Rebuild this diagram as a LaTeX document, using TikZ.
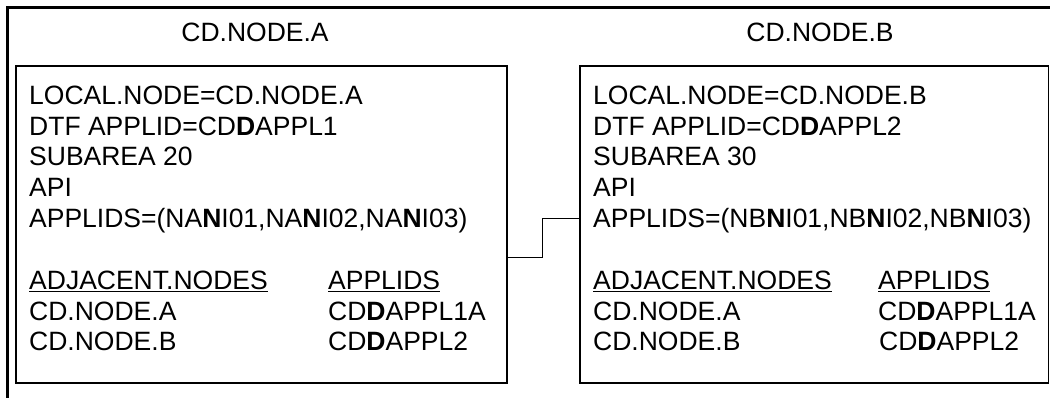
\documentclass[tikz,border=0pt]{standalone}
\usepackage{fontspec}
\setmainfont{Liberation Sans}
\begin{document}
\begin{tikzpicture}[x=1pt,y=-1pt,
  frame/.style={line width=2.2pt},
  box/.style={draw,line width=1.8pt,inner sep=0pt,minimum height=317pt},
  conn/.style={line width=1pt},
  txt/.style={anchor=base west,inner sep=0pt,font=\fontsize{26.5}{30.5}\selectfont},
  ttl/.style={anchor=base,inner sep=0pt,font=\fontsize{26.5}{30.5}\selectfont}]
\useasboundingbox (0,0) rectangle (1050,398);
% outer frame (open on right and bottom)
\draw[frame] (7.5,398) -- (7.5,7.5) -- (1050,7.5);
% titles
\node[ttl] (tA) at (255,42) {CD.NODE.A};
\node[ttl] (tB) at (820,42) {CD.NODE.B};
% boxes
\node[box,minimum width=491pt] (A) at (261.5,224.5) {};
\node[box,minimum width=468.5pt] (B) at (814.25,224.5) {};
% connector
\draw[conn] ([yshift=-33.5pt]A.east) -- ++(35,0) |- ([yshift=5.8pt]B.west);
% box A text
\node[txt] (a1) at (29,105) {LOCAL.NODE=CD.NODE.A};
\node[txt] (a2) at (29,135.5) {DTF APPLID=CD\textbf{D}APPL1};
\node[txt] (a3) at (29,166) {SUBAREA 20};
\node[txt] (a4) at (29,196.5) {API};
\node[txt] (a5) at (29,227.5) {APPLIDS=(NA\textbf{N}I01,NA\textbf{N}I02,NA\textbf{N}I03)};
\node[txt] (a6) at (29,290) {\underline{ADJACENT.NODES}};
\node[txt] (a7) at (328,290) {\underline{APPLIDS}};
\node[txt] (a8) at (29,320) {CD.NODE.A};
\node[txt] (a9) at (328,320) {CD\textbf{D}APPL1A};
\node[txt] (a10) at (29,350) {CD.NODE.B};
\node[txt] (a11) at (328,350) {CD\textbf{D}APPL2};
% box B text
\node[txt] (b1) at (593,105) {LOCAL.NODE=CD.NODE.B};
\node[txt] (b2) at (593,135.5) {DTF APPLID=CD\textbf{D}APPL2};
\node[txt] (b3) at (593,166) {SUBAREA 30};
\node[txt] (b4) at (593,196.5) {API};
\node[txt] (b5) at (593,227.5) {APPLIDS=(NB\textbf{N}I01,NB\textbf{N}I02,NB\textbf{N}I03)};
\node[txt] (b6) at (593,290) {\underline{ADJACENT.NODES}};
\node[txt] (b7) at (878,290) {\underline{APPLIDS}};
\node[txt] (b8) at (593,320) {CD.NODE.A};
\node[txt] (b9) at (878,320) {CD\textbf{D}APPL1A};
\node[txt] (b10) at (593,350) {CD.NODE.B};
\node[txt] (b11) at (879,350) {CD\textbf{D}APPL2};
\end{tikzpicture}
\end{document}
